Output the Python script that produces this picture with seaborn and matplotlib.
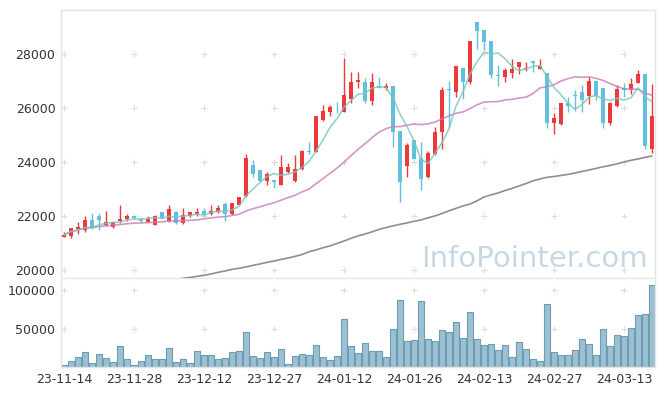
import numpy as np
import pandas as pd
import matplotlib
matplotlib.use('Agg')
import matplotlib.pyplot as plt
import seaborn as sns

# tick labels every 10 trading days
tick_labels = ['23-11-14', '23-11-28', '23-12-12', '23-12-27', '24-01-12',
               '24-01-26', '24-02-13', '24-02-27', '24-03-13']

opens = [21230, 21270, 21510, 21460, 21850, 21980, 21670, 21600, 21810, 21880,
         22000, 21900, 21790, 21670, 22140, 21810, 22160, 21730, 21980, 22070,
         22190, 22080, 22150, 22450, 22070, 22410, 22740, 23890, 23700, 23310,
         23330, 23140, 23610, 23310, 23730, 24420, 24380, 25560, 25860, 26040,
         25860, 26330, 26950, 26950, 26270, 26830, 26740, 26810, 25150, 23860,
         24810, 24140, 23460, 24300, 25100, 26690, 26580, 27490, 26970, 29200,
         28890, 28480, 27200, 27160, 27310, 27530, 27430, 27740, 27440, 27300,
         25430, 25400, 26170, 26480, 26580, 26460, 27000, 26730, 25460, 26090,
         26730, 26670, 26940, 27260, 24470]
highs = [21420, 21560, 21770, 22010, 22100, 22100, 22170, 21780, 22410, 22070,
         22000, 21930, 22000, 22050, 22150, 22410, 22170, 22290, 22150, 22310,
         22300, 22400, 22410, 22530, 22480, 22700, 24300, 24070, 23720, 23610,
         23340, 24260, 23950, 24260, 24430, 24750, 25720, 26110, 26110, 26230,
         27840, 27350, 27350, 27100, 27280, 27160, 26940, 26810, 25150, 24690,
         24820, 24730, 24400, 25310, 26780, 27000, 27560, 27490, 28480, 29200,
         28890, 28480, 27590, 27470, 27800, 27690, 27690, 27740, 27810, 27300,
         25800, 26200, 26420, 26670, 26850, 27140, 27000, 26730, 26230, 26850,
         26940, 27100, 27410, 27260, 26890]
lows = [21210, 21170, 21330, 21420, 21510, 21480, 21630, 21550, 21730, 21830,
        21880, 21760, 21770, 21650, 21880, 21790, 21690, 21690, 21960, 22000,
        21990, 22040, 22110, 21830, 22020, 22400, 22700, 23460, 23270, 23140,
        23030, 23140, 23580, 23270, 23710, 24300, 24370, 25520, 25700, 25800,
        25860, 26180, 26730, 26180, 26110, 26730, 26670, 24570, 22530, 23460,
        24110, 22960, 23400, 24260, 24470, 25250, 26420, 26330, 26880, 28170,
        28150, 27110, 26830, 26970, 27100, 27250, 27360, 27350, 27440, 25270,
        25040, 25370, 25860, 25900, 25860, 26150, 26300, 25270, 25370, 26030,
        26420, 26500, 26920, 24470, 24320]
closes = [21300, 21540, 21580, 21850, 21540, 21850, 21790, 21770, 21890, 22000,
          21940, 21830, 21890, 22010, 21920, 22260, 21750, 22020, 22150, 22160,
          22080, 22190, 22300, 22080, 22480, 22700, 24160, 23570, 23310, 23560,
          23260, 23800, 23800, 23730, 24410, 24360, 25700, 25890, 26050, 26020,
          26480, 26950, 27020, 26270, 26950, 26740, 26800, 25120, 23270, 24630,
          24110, 23370, 24340, 25120, 26650, 26670, 27560, 26970, 28480, 28860,
          28460, 27220, 27180, 27410, 27440, 27690, 27490, 27680, 27560, 25430,
          25620, 26170, 26080, 26460, 26300, 27000, 26460, 25430, 26200, 26690,
          26680, 26890, 27260, 24600, 25700]
volumes = [2200, 7900, 12800, 19400, 4800, 16700, 11400, 6600, 27300, 10100,
           2200, 7500, 15400, 10100, 10100, 24600, 6200, 10100, 4800, 20700,
           15400, 15400, 10100, 11400, 19400, 20700, 45800, 14100, 11400, 19400,
           12800, 23300, 3500, 14100, 16700, 15400, 28600, 12800, 8800, 14100,
           62900, 27300, 18000, 31200, 20700, 20700, 12800, 49700, 86700, 33900,
           35200, 85400, 36500, 33900, 48400, 45800, 59000, 37800, 70800, 36500,
           28600, 29900, 22000, 28600, 12800, 32600, 23300, 10100, 7500, 81400,
           19400, 15400, 15400, 22000, 36500, 29900, 15400, 49700, 27300, 41800,
           40500, 51000, 66900, 68200, 106500]
# long moving average (grey); enters the view near the 16th candle
ma_long = [np.nan] * 15 + [
    19610, 19650, 19690, 19720, 19760, 19800, 19850, 19910, 19960, 20020,
    20060, 20110, 20170, 20220, 20280, 20330, 20390, 20440, 20500, 20570,
    20670, 20740, 20820, 20890, 20980, 21070, 21170, 21260, 21330, 21410,
    21500, 21570, 21630, 21690, 21740, 21800, 21850, 21930, 22000, 22090,
    22190, 22280, 22370, 22440, 22560, 22700, 22780, 22850, 22940, 23020,
    23110, 23200, 23300, 23370, 23430, 23460, 23500, 23540, 23590, 23650,
    23700, 23760, 23820, 23870, 23930, 24000, 24060, 24110, 24170, 24220]

UP = '#ec3a3c'
DOWN = '#62c0dc'


def visualize():
    sns.set_style('white')
    plt.rcParams['font.family'] = ['DejaVu Sans']

    df = pd.DataFrame({'idx': np.arange(len(closes)), 'open': opens, 'high': highs,
                       'low': lows, 'close': closes, 'volume': volumes, 'ma120': ma_long})
    df['ma5'] = df['close'].rolling(5, min_periods=1).mean()
    df['ma20'] = df['close'].rolling(20, min_periods=1).mean()
    up = df['close'] >= df['open']
    colors = np.where(up, UP, DOWN)

    fig = plt.figure(figsize=(6.65, 3.96), dpi=100)
    ax = fig.add_axes([61 / 665, 118 / 396, 594 / 665, 268 / 396])
    axv = fig.add_axes([61 / 665, 29 / 396, 594 / 665, 87 / 396])

    # watermark
    fig.text(648 / 665, 129 / 396, 'InfoPointer.com', ha='right', va='baseline',
             fontsize=21, color='#c6d8e3', zorder=0)

    # candles
    ax.vlines(df['idx'], df['low'], df['high'], colors=colors, linewidth=1.0, zorder=2)
    body_lo = df[['open', 'close']].min(axis=1)
    body_h = (df['close'] - df['open']).abs().clip(lower=30)
    ax.bar(df['idx'], body_h, bottom=body_lo, width=0.7, color=colors, linewidth=0, zorder=3)

    # moving averages
    sns.lineplot(x='idx', y='ma120', data=df, ax=ax, color='#8f8f8f', linewidth=1.2, zorder=4)
    sns.lineplot(x='idx', y='ma20', data=df, ax=ax, color='#c77dbb', linewidth=1.2, alpha=0.8, zorder=4)
    sns.lineplot(x='idx', y='ma5', data=df, ax=ax, color='#7cc6bb', linewidth=1.2, alpha=0.8, zorder=4)

    # volume
    sns.barplot(x='idx', y='volume', data=df, ax=axv, native_scale=True, color='#9cc0d1',
                saturation=1, edgecolor='#6d9db4', linewidth=0.8, width=0.86, errorbar=None)

    xt = np.arange(0, len(closes), 10)
    for a, yt, ylim in [(ax, np.arange(20000, 28001, 2000), (19700, 29630)),
                        (axv, [50000, 100000], (0, 113000))]:
        a.set_xlim(-0.43, len(closes) - 1 + 0.43)
        a.set_ylim(*ylim)
        a.set_yticks(yt)
        a.set_yticklabels([str(v) for v in yt])
        a.set_xticks(xt)
        a.set_xlabel('')
        a.set_ylabel('')
        a.tick_params(length=0, labelsize=9, colors='#333333', pad=4)
        gx, gy = np.meshgrid(xt, yt)
        a.plot(gx.ravel(), gy.ravel(), '+', color='#dcdcdc', markersize=5,
               markeredgewidth=0.8, zorder=0)
        for s in a.spines.values():
            s.set_color('#e4e4e4')
            s.set_linewidth(1)
    ax.set_xticklabels([])
    axv.set_xticklabels(tick_labels)
    axv.spines['top'].set_visible(False)

    fig.savefig('out.png', dpi=100)


if __name__ == '__main__':
    visualize()
